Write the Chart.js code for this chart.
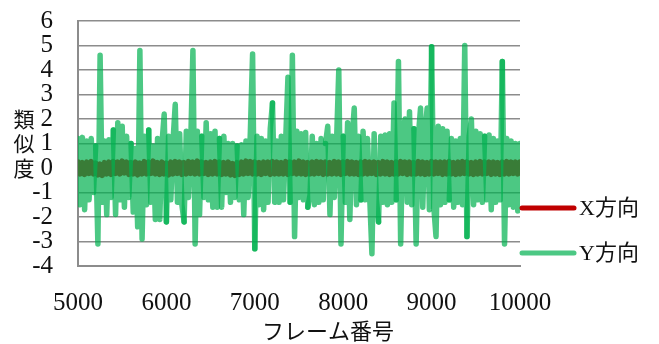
<!DOCTYPE html>
<html>
<head>
<meta charset="utf-8">
<script src="https://cdn.jsdelivr.net/npm/chart.js@4"></script>
<style>
  html, body { margin: 0; padding: 0; background: #fff; }
  #wrap { width: 659px; height: 344px; }
</style>
</head>
<body>
<div id="wrap"><canvas id="c" width="659" height="344"></canvas></div>
<script>
// ---- data ----
const frameStart = 5000;
const frameStep = 25;
const seriesNames = ["X方向", "Y方向"];
const xTickValues = [5000, 6000, 7000, 8000, 9000, 10000];
const yTickValues = [-4, -3, -2, -1, 0, 1, 2, 3, 4, 5, 6];
const xTitle = "フレーム番号";
const yTitleChars = ["類", "似", "度"];

const yValues = [
  1.2, -1.5, 1.25, -1.7, 1.1, -1.3, 1.2, -1.0, 0.9, -3.1,
  4.6, -1.4, 1.1, -1.9, 1.15, -1.2, 1.55, -1.9, 1.85, -1.3,
  1.7, -1.6, 1.3, -1.2, 1.0, -1.8, 0.8, -2.4, 4.8, -2.9,
  1.3, -1.5, 1.55, -1.4, 0.9, -2.1, 1.2, -2.1, 1.0, 2.2,
  -2.2, 1.3, -1.3, 1.1, 2.6, -1.4, 1.4, -1.5, -2.2, 1.5,
  -1.2, 1.0, 4.8, -3.1, 1.5, -1.9, 1.3, -1.2, 1.85, -1.3,
  1.4, -1.6, 1.5, -1.6, 1.2, -1.6, 1.3, -1.0, 1.0, -1.4,
  1.0, -1.2, 0.9, -1.3, 0.95, -1.9, 1.1, -1.2, 1.5, 4.65,
  -3.3, 1.3, -1.5, 1.2, -1.7, 1.1, -1.4, 1.6, 2.65, -1.4,
  1.1, -1.4, 1.3, -1.3, 1.2, 3.7, -1.4, 4.6, -2.8, 1.5,
  -1.2, 1.4, -1.3, 1.45, -1.6, -1.1, 1.3, -1.5, 1.0, -1.4,
  1.2, -1.3, 1.0, 1.7, -1.9, 1.3, -1.2, 1.1, 4.0, -3.1,
  1.3, -1.4, 1.85, -2.1, 1.2, 2.45, -1.5, 1.3, -1.3, 1.5,
  -1.3, 1.2, -1.2, -3.5, 1.4, -1.3, -2.2, 1.3, -1.4, 1.35,
  -1.5, 1.4, -1.4, 2.65, -1.3, 4.35, -3.1, 1.5, 2.0, -1.4,
  2.3, -1.5, 1.6, -3.1, 1.3, 2.45, -1.6, 1.5, 2.45, -1.7,
  4.95, -1.6, -2.8, 1.7, -1.5, 1.6, -1.4, 1.5, -1.3, 1.2,
  -1.6, 1.1, -1.4, 1.2, -1.5, 5.0, -2.8, 1.3, 2.0, -1.5,
  1.5, -1.3, 1.4, -1.4, 1.3, -1.3, 1.35, -1.7, 1.2, -1.4,
  1.1, -1.3, 4.35, -3.1, 1.2, -1.5, 1.1, -1.6, 1.0, -1.75,
  1.0
];

const xValues = [
  0.24, -0.24, 0.22, -0.26, 0.24, -0.22, 0.26, -0.24, 0.2, -0.28,
  0.16, -0.3, 0.22, -0.24, 0.24, -0.26, 0.26, -0.22, 0.24, -0.24,
  0.28, -0.2, 0.24, -0.26, 0.22, -0.24, 0.24, -0.28, 0.2, -0.24,
  0.26, -0.24, 0.24, -0.22, 0.28, -0.24, 0.22, -0.26, 0.24, -0.24,
  0.2, -0.28, 0.24, -0.24, 0.26, -0.22, 0.24, -0.26, 0.22, -0.24,
  0.26, -0.22, 0.24, -0.24, 0.28, -0.24, 0.24, -0.22, 0.22, -0.26,
  0.24, -0.24, 0.26, -0.24, 0.24, -0.26, 0.22, -0.24, 0.24, -0.28,
  0.18, -0.3, 0.22, -0.26, 0.24, -0.24, 0.28, -0.22, 0.26, -0.24,
  0.24, -0.24, 0.22, -0.26, 0.24, -0.22, 0.24, -0.26, 0.26, -0.24,
  0.24, -0.24, 0.22, -0.24, 0.26, -0.26, 0.24, -0.22, 0.24, -0.24,
  0.28, -0.24, 0.24, -0.26, 0.22, -0.24, 0.24, -0.24, 0.26, -0.22,
  0.24, -0.26, 0.24, -0.24, 0.22, -0.24, 0.26, -0.24, 0.24, -0.26,
  0.24, -0.22, 0.26, -0.24, 0.24, -0.24, 0.22, -0.26, 0.24, -0.24,
  0.26, -0.24, 0.24, -0.22, 0.24, -0.26, 0.22, -0.24, 0.26, -0.24,
  0.24, -0.26, 0.22, -0.24, 0.24, -0.24, 0.26, -0.22, 0.24, -0.26,
  0.24, -0.24, 0.22, -0.24, 0.26, -0.24, 0.24, -0.26, 0.22, -0.24,
  0.26, -0.24, 0.24, -0.22, 0.24, -0.26, 0.24, -0.24, 0.26, -0.24,
  0.22, -0.26, 0.24, -0.24, 0.26, -0.22, 0.24, -0.24, 0.22, -0.26,
  0.24, -0.24, 0.26, -0.24, 0.24, -0.22, 0.24, -0.26, 0.24, -0.24,
  0.22, -0.26, 0.24, -0.24, 0.26, -0.24, 0.24, -0.22, 0.24, -0.24,
  0.24
];

// ---- build ----
const toPoints = arr => arr.map((v, i) => ({ x: frameStart + i * frameStep, y: v }));

const RED = '#C00000';
const GREEN_A = 'rgba(0,176,80,0.7)';
const GREEN_B = 'rgba(0,176,79,0.7)';
const TEXT = '#111';
const LATIN = '"Liberation Serif", "Noto Sans CJK JP", serif';

const overlay = {
  id: 'overlay',
  afterDraw(chart) {
    const { ctx, scales } = chart;
    ctx.save();
    ctx.fillStyle = TEXT;
    // stacked y title
    ctx.font = '21px "Noto Sans CJK JP"';
    ctx.textAlign = 'center';
    ctx.textBaseline = 'middle';
    yTitleChars.forEach((ch, k) => {
      ctx.fillText(ch, 24, scales.y.getPixelForValue(2 - k));
    });
    // x title
    ctx.font = '22px "Noto Sans CJK JP"';
    ctx.fillText(xTitle, 328, 331);
    // legend
    const rows = [208, 253];
    chart.data.datasets.forEach((ds, k) => {
      const y = rows[k];
      ctx.beginPath();
      ctx.lineCap = 'round';
      ctx.lineWidth = 5;
      ctx.strokeStyle = ds.legendColor;
      ctx.moveTo(522, y);
      ctx.lineTo(574, y);
      ctx.stroke();
      ctx.font = '22px ' + LATIN;
      ctx.textAlign = 'left';
      ctx.fillStyle = TEXT;
      ctx.fillText(ds.label, 579, y + 1);
    });
    ctx.restore();
  }
};

new Chart(document.getElementById('c'), {
  type: 'line',
  data: {
    datasets: [
      {
        label: seriesNames[0],
        data: toPoints(xValues),
        borderColor: RED,
        legendColor: RED,
        borderWidth: 5.5,
        pointRadius: 0,
        tension: 0,
        borderJoinStyle: 'round',
        borderCapStyle: 'round',
        order: 1
      },
      {
        label: seriesNames[1],
        data: toPoints(yValues),
        borderColor: GREEN_A,
        legendColor: GREEN_A,
        borderWidth: 5.5,
        pointRadius: 0,
        tension: 0,
        borderJoinStyle: 'round',
        borderCapStyle: 'round',
        order: 0,
        segment: {
          borderColor: c => (Math.floor(c.p0DataIndex / 8) % 2 ? GREEN_A : GREEN_B)
        }
      }
    ]
  },
  options: {
    responsive: false,
    animation: false,
    events: [],
    layout: { padding: { left: 0, right: 139, top: 0, bottom: 0 } },
    plugins: {
      legend: { display: false },
      tooltip: { enabled: false }
    },
    scales: {
      x: {
        type: 'linear',
        min: 5000,
        max: 10000,
        afterBuildTicks: s => { s.ticks = xTickValues.map(v => ({ value: v })); },
        afterFit: s => { s.height = 78; },
        grid: { display: false, drawTicks: false },
        border: { display: true, color: '#8c8c8c', width: 2 },
        ticks: {
          color: TEXT,
          font: { family: LATIN, size: 25 },
          padding: 22,
          maxRotation: 0,
          autoSkip: false,
          callback: v => String(v)
        }
      },
      y: {
        min: -4,
        max: 6,
        afterBuildTicks: s => { s.ticks = yTickValues.map(v => ({ value: v })); },
        afterFit: s => { s.width = 78; s.paddingTop = 21; s.paddingBottom = 0; },
        grid: { color: '#8c8c8c', lineWidth: 1.4, drawTicks: false },
        border: { display: true, color: '#8c8c8c', width: 2 },
        ticks: {
          color: TEXT,
          font: { family: LATIN, size: 25 },
          padding: 25,
          autoSkip: false,
          callback: v => String(v)
        }
      }
    }
  },
  plugins: [overlay]
});
</script>
</body>
</html>
